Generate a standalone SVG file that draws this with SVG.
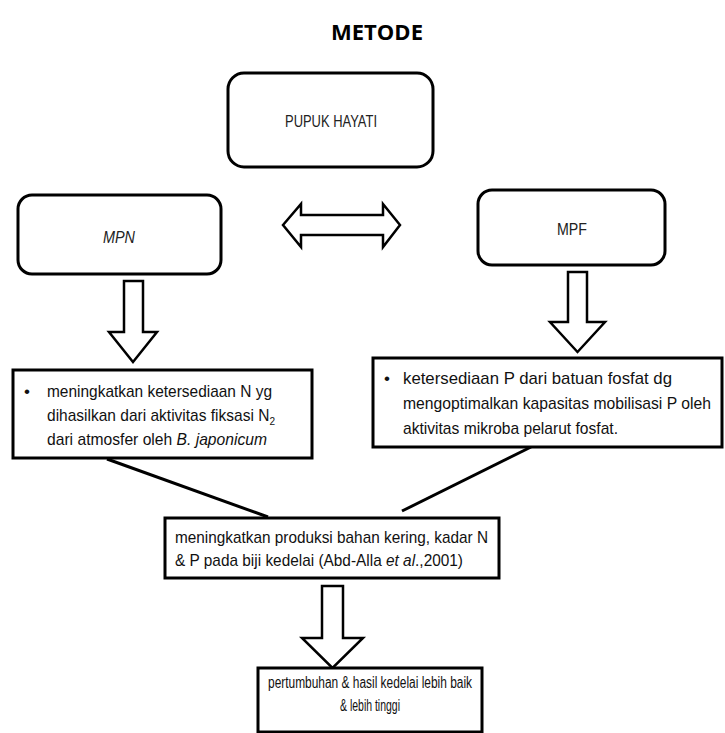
<svg xmlns="http://www.w3.org/2000/svg" width="725" height="733" viewBox="0 0 725 733">
<style>
.rbox{fill:#fff;stroke:#000;stroke-width:3}
.box{fill:#fff;stroke:#000;stroke-width:3}
.arr{fill:#fff;stroke:#000;stroke-width:2.5;stroke-linejoin:miter}
.con{stroke:#000;stroke-width:3;fill:none}
.t{font-family:"Liberation Sans",Arial,sans-serif;font-size:17px;fill:#111}
.small{font-family:"Liberation Sans",Arial,sans-serif;font-size:16px;fill:#111}
.lbl{font-family:"Liberation Sans",Arial,sans-serif;font-size:17px;fill:#222}
.title{font-family:"Open Sans","Liberation Sans",sans-serif;font-size:22px;font-weight:bold;fill:#000}
</style>
<rect width="725" height="733" fill="#fff"/>
<text class="title" x="377" y="40" text-anchor="middle">METODE</text>

<g id="connectors">
<line class="con" x1="107" y1="459" x2="268" y2="517"/>
<line class="con" x1="402" y1="511" x2="531" y2="447"/>
<polygon id="arrow-both" class="arr" points="283,225 301,204 301,215 383,215 383,204 400,225 383,247 383,235 301,235 301,247"/>
<polygon id="arrow-mpn" class="arr" points="124,281 143,281 143,332 157,332 133,362 109,332 124,332"/>
<polygon id="arrow-mpf" class="arr" points="568,272 587,272 587,322 605,322 577.5,352 550,322 568,322"/>
<polygon id="arrow-mid" class="arr" points="322,586 343,586 343,638 363,638 332.5,668 302,638 322,638"/>
</g>

<g id="pupuk">
<rect class="rbox" x="228" y="73" width="205" height="94" rx="16"/>
<text class="lbl" x="285" y="127" textLength="92" lengthAdjust="spacingAndGlyphs">PUPUK HAYATI</text>
</g>

<g id="mpn">
<rect class="rbox" x="18" y="195" width="203" height="79" rx="14"/>
<text class="lbl" x="103" y="243" font-style="italic" textLength="32" lengthAdjust="spacingAndGlyphs">MPN</text>
</g>

<g id="mpf">
<rect class="rbox" x="478" y="190" width="187" height="75" rx="14"/>
<text class="lbl" x="557" y="235" textLength="30" lengthAdjust="spacingAndGlyphs">MPF</text>
</g>

<g id="n-box">
<rect class="box" x="13" y="370" width="299" height="88"/>
<text class="t" x="24" y="397">•</text>
<text class="t" x="47" y="397" textLength="225" lengthAdjust="spacingAndGlyphs">meningkatkan  ketersediaan N yg</text>
<text class="t" x="47" y="421" textLength="228" lengthAdjust="spacingAndGlyphs">dihasilkan dari aktivitas fiksasi N<tspan dy="4" style="font-size:11px">2</tspan></text>
<text class="t" x="47" y="445" textLength="220" lengthAdjust="spacingAndGlyphs">dari atmosfer oleh <tspan font-style="italic">B. japonicum</tspan></text>
</g>

<g id="p-box">
<rect class="box" x="373" y="358" width="349" height="89"/>
<text class="t" x="384" y="384">•</text>
<text class="t" x="403" y="384" textLength="269" lengthAdjust="spacingAndGlyphs">ketersediaan P dari batuan fosfat dg</text>
<text class="t" x="403" y="409" textLength="308" lengthAdjust="spacingAndGlyphs">mengoptimalkan  kapasitas mobilisasi P oleh</text>
<text class="t" x="403" y="434" textLength="215" lengthAdjust="spacingAndGlyphs">aktivitas mikroba pelarut fosfat.</text>
</g>

<g id="mid-box">
<rect class="box" x="165" y="518" width="334" height="60"/>
<text class="t" x="175" y="543" textLength="313" lengthAdjust="spacingAndGlyphs">meningkatkan  produksi bahan kering, kadar N</text>
<text class="t" x="175" y="566" textLength="288" lengthAdjust="spacingAndGlyphs">&amp; P pada biji kedelai (Abd-Alla  <tspan font-style="italic">et al</tspan>.,2001)</text>
</g>

<g id="result-box">
<rect class="box" x="258" y="668" width="224" height="64"/>
<text class="small" x="268" y="688" textLength="204" lengthAdjust="spacingAndGlyphs">pertumbuhan  &amp; hasil kedelai lebih baik</text>
<text class="small" x="340" y="711" textLength="60" lengthAdjust="spacingAndGlyphs">&amp; lebih tinggi</text>
</g>
</svg>
